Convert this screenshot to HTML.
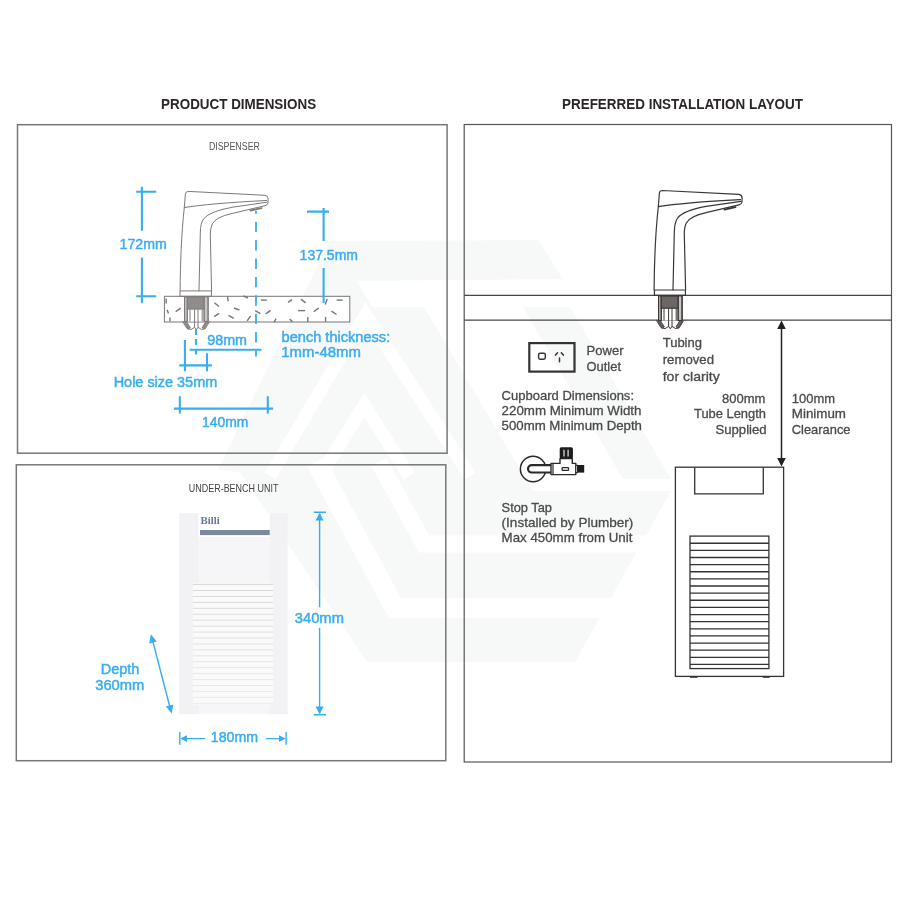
<!DOCTYPE html>
<html><head><meta charset="utf-8"><title>Product dimensions</title>
<style>
html,body{margin:0;padding:0;background:#fff;}
body{width:900px;height:900px;overflow:hidden;font-family:"Liberation Sans",sans-serif;}
svg{display:block;filter:blur(0.35px);}
</style></head>
<body>
<svg width="900" height="900" viewBox="0 0 900 900">
<rect width="900" height="900" fill="#fff"/>
<g fill="#f7f8f8">
<polygon points="329.8,241 538.3,240 563,279 357,281 372,307 424,307 533,491 671,491 575,662 367,662 240,472 218,470 227,451"/>
<polygon points="523,307 570,307 671,479 623,479"/>
</g>
<g fill="none" stroke="#fff" stroke-linejoin="miter" stroke-miterlimit="10">
<polyline points="270,476 365.7,314.3 470,476" stroke-width="13"/>
<polyline points="320,476 364.4,405 409,476" stroke-width="13"/>
<polyline points="379,462 424,544 680,544" stroke-width="17"/>
<polyline points="316,462 395,608 660,608" stroke-width="20"/>
</g>
<g fill="none" stroke="#777" stroke-width="1.5">
<rect x="17.5" y="124.7" width="429.6" height="328.5"/>
<rect x="16.3" y="464.8" width="429.5" height="295.9"/>
</g>
<rect x="464.2" y="124.5" width="427.3" height="637.5" fill="none" stroke="#555" stroke-width="1.2"/>
<text x="161.1" y="109.4" font-family="Liberation Sans, sans-serif" font-size="14.5" font-weight="bold" fill="#2b2626" text-anchor="start" textLength="155" lengthAdjust="spacingAndGlyphs">PRODUCT DIMENSIONS</text>
<text x="562" y="109.4" font-family="Liberation Sans, sans-serif" font-size="14.5" font-weight="bold" fill="#2b2626" text-anchor="start" textLength="241" lengthAdjust="spacingAndGlyphs">PREFERRED INSTALLATION LAYOUT</text>
<text x="208.9" y="149.9" font-family="Liberation Sans, sans-serif" font-size="10.3" font-weight="normal" fill="#555" text-anchor="start" textLength="51" lengthAdjust="spacingAndGlyphs">DISPENSER</text>
<text x="188.8" y="492" font-family="Liberation Sans, sans-serif" font-size="10.3" font-weight="normal" fill="#444" text-anchor="start" textLength="89.6" lengthAdjust="spacingAndGlyphs">UNDER-BENCH UNIT</text>
<defs>
<g id="faucet" fill="none" stroke-linecap="round" stroke-linejoin="round">
 <path d="M654.1 290 C654.3 262 655.5 232 658.3 206.7 L659.4 193 Q659.8 190.6 662.2 190.5 L738.9 194.4 Q742 194.8 742.1 198 L742 202 Q741.6 204.2 739 204.8 L706 212.6 Q690 216 686.3 223 Q684.3 227 684.3 234 L685.6 290"/>
 <path d="M658.3 206.7 Q683 202.5 740.5 199.6"/>
 <path d="M741 201.3 L706 206.4 Q684 210.5 678 217.5 Q674.4 222 674.3 232 L673 290"/>
 <path d="M724.5 209.6 L735.5 207.2" stroke-width="1.8"/>
 <path d="M654.4 290 H685.4 V295.4 H654.4 Z"/>
</g></defs>
<rect x="164.4" y="296.3" width="185.4" height="25.7" fill="#fff" stroke="#777" stroke-width="1"/>
<g stroke="#777" stroke-width="1.4" stroke-linecap="butt">
<line x1="166.2" y1="298.5" x2="166.2" y2="303.5"/>
<line x1="167.1" y1="309.8" x2="168.5" y2="313.6"/>
<line x1="175.7" y1="311.6" x2="180.7" y2="308.2"/>
<line x1="170.0" y1="317.4" x2="170.0" y2="321.4"/>
<line x1="214.4" y1="302.7" x2="219.0" y2="306.5"/>
<line x1="227.4" y1="296.3" x2="228.2" y2="301.3"/>
<line x1="233.9" y1="308.0" x2="239.5" y2="310.0"/>
<line x1="243.3" y1="295.8" x2="247.9" y2="298.0"/>
<line x1="214.2" y1="316.7" x2="219.2" y2="313.3"/>
<line x1="228.5" y1="315.3" x2="233.7" y2="318.3"/>
<line x1="247.2" y1="320.8" x2="250.6" y2="315.8"/>
<line x1="255.2" y1="310.6" x2="260.4" y2="313.6"/>
<line x1="260.8" y1="300.1" x2="266.8" y2="300.1"/>
<line x1="265.7" y1="313.8" x2="270.7" y2="310.4"/>
<line x1="274.1" y1="322.1" x2="276.1" y2="318.7"/>
<line x1="288.0" y1="302.4" x2="292.0" y2="299.6"/>
<line x1="289.6" y1="319.1" x2="292.6" y2="321.7"/>
<line x1="301.0" y1="299.1" x2="305.6" y2="302.9"/>
<line x1="298.1" y1="310.6" x2="305.1" y2="310.6"/>
<line x1="313.7" y1="311.6" x2="318.7" y2="308.2"/>
<line x1="307.8" y1="316.9" x2="307.8" y2="321.9"/>
<line x1="325.2" y1="304.5" x2="327.2" y2="298.9"/>
<line x1="325.6" y1="316.9" x2="325.6" y2="321.9"/>
<line x1="336.6" y1="300.1" x2="342.6" y2="300.1"/>
<line x1="331.5" y1="311.1" x2="336.5" y2="314.5"/>
</g>
<defs>
<g id="thread">
 <rect x="658.3" y="295.9" width="23.9" height="24.6" fill="#fff" stroke="none"/>
 <rect x="658.6" y="295.9" width="2.6" height="24.6" fill="#c9c6c6"/>
 <rect x="678.2" y="295.9" width="3.8" height="24.6" fill="#c9c6c6"/>
 <rect x="661.2" y="296" width="16.8" height="12.2" fill="currentColor"/>
 <g stroke-width="1" fill="none">
  <path d="M658.5 296 V320.5 M682.2 296 V320.5"/>
  <path d="M661.4 308 V320.5 M664 308.5 V320.5 M668.6 308.5 V326.5 M672 308.5 V326.5 M676.2 308.5 V320.5 M678 308 V320.5"/>
  <path d="M656.5 320.5 L661 327.6 L665 328.6 L668.6 326.4 L670.3 328.8 L672 326.4 L675.6 328.6 L679.4 327.6 L683.6 320.5"/>
  <path d="M657.6 320.6 L660.4 320.6 L664.4 326.8 L662 328.4 Z M682.6 320.6 L679.8 320.6 L676 326.8 L678.2 328.4 Z" fill="currentColor" stroke-width="0.8"/>
 </g>
</g></defs>
<g transform="translate(-474,0.9)" stroke="#7d7979" stroke-width="1" color="#908c8c"><use href="#thread"/><use href="#faucet"/></g>
<g stroke="#38adf0" stroke-width="2.1" fill="none">
<path d="M141.9 186.7 V230.8 M141.9 257.5 V303.3 M136.2 191.8 H156.2 M136.2 296.3 H156.2"/>
<path d="M323.6 208 V241 M323.6 268 V303 M307 211.6 H329"/>
<path d="M256 210.7 V356.5" stroke-dasharray="10.4 8" stroke-dashoffset="7.4" stroke-width="1.8"/>
<path d="M196 329 V354.5" stroke-dasharray="6 4"/>
<path d="M189.7 349.7 H261.5"/>
<path d="M184.9 340 V371.3 M207 353.3 V371.3 M179.2 365.4 H211.9"/>
<path d="M173.9 408.6 H273.1 M179.8 396.2 V413.5 M267.8 396.2 V413.5"/>
</g>
<text x="119.6" y="248.8" font-family="Liberation Sans, sans-serif" font-size="15.5" font-weight="normal" fill="#38adf0" text-anchor="start" textLength="47.2" lengthAdjust="spacingAndGlyphs" stroke="#38adf0" stroke-width="0.5">172mm</text>
<text x="299.6" y="259.6" font-family="Liberation Sans, sans-serif" font-size="15.5" font-weight="normal" fill="#38adf0" text-anchor="start" textLength="58.4" lengthAdjust="spacingAndGlyphs" stroke="#38adf0" stroke-width="0.5">137.5mm</text>
<text x="281.6" y="342.4" font-family="Liberation Sans, sans-serif" font-size="15.5" font-weight="normal" fill="#38adf0" text-anchor="start" textLength="108.6" lengthAdjust="spacingAndGlyphs" stroke="#38adf0" stroke-width="0.5">bench thickness:</text>
<text x="281.3" y="357.3" font-family="Liberation Sans, sans-serif" font-size="15.5" font-weight="normal" fill="#38adf0" text-anchor="start" textLength="79.5" lengthAdjust="spacingAndGlyphs" stroke="#38adf0" stroke-width="0.5">1mm-48mm</text>
<text x="207.2" y="345.3" font-family="Liberation Sans, sans-serif" font-size="15.5" font-weight="normal" fill="#38adf0" text-anchor="start" textLength="39.9" lengthAdjust="spacingAndGlyphs" stroke="#38adf0" stroke-width="0.5">98mm</text>
<text x="113.7" y="386.7" font-family="Liberation Sans, sans-serif" font-size="15.5" font-weight="normal" fill="#38adf0" text-anchor="start" textLength="103.5" lengthAdjust="spacingAndGlyphs" stroke="#38adf0" stroke-width="0.5">Hole size 35mm</text>
<text x="202" y="427.2" font-family="Liberation Sans, sans-serif" font-size="15.5" font-weight="normal" fill="#38adf0" text-anchor="start" textLength="46.4" lengthAdjust="spacingAndGlyphs" stroke="#38adf0" stroke-width="0.5">140mm</text>
<rect x="179.3" y="513.3" width="108.2" height="200.9" fill="#f6f6f8"/>
<rect x="179.3" y="513.3" width="18.9" height="200.9" fill="#f2f2f4"/>
<rect x="269.7" y="513.3" width="17.8" height="200.9" fill="#f2f2f4"/>
<rect x="198.2" y="513.3" width="71.5" height="23.5" fill="#fff"/>
<rect x="200" y="530" width="69.7" height="5.1" fill="#7c87a0"/>
<text x="200.6" y="523.8" font-family="Liberation Serif, sans-serif" font-size="10.5" font-weight="bold" fill="#66779a" text-anchor="start" textLength="19.3" lengthAdjust="spacingAndGlyphs">Billi</text>
<rect x="192.8" y="583.5" width="80.3" height="121" fill="#fafafb"/>
<g stroke-width="1">
<line x1="192.8" x2="273.1" y1="584.60" y2="584.60" stroke="#d8d8d8"/>
<line x1="192.8" x2="273.1" y1="590.53" y2="590.53" stroke="#d9d9d9"/>
<line x1="192.8" x2="273.1" y1="596.47" y2="596.47" stroke="#dadada"/>
<line x1="192.8" x2="273.1" y1="602.40" y2="602.40" stroke="#dbdbdb"/>
<line x1="192.8" x2="273.1" y1="608.34" y2="608.34" stroke="#dcdcdc"/>
<line x1="192.8" x2="273.1" y1="614.27" y2="614.27" stroke="#dddddd"/>
<line x1="192.8" x2="273.1" y1="620.21" y2="620.21" stroke="#dedede"/>
<line x1="192.8" x2="273.1" y1="626.14" y2="626.14" stroke="#dfdfdf"/>
<line x1="192.8" x2="273.1" y1="632.08" y2="632.08" stroke="#e0e0e0"/>
<line x1="192.8" x2="273.1" y1="638.01" y2="638.01" stroke="#e1e1e1"/>
<line x1="192.8" x2="273.1" y1="643.95" y2="643.95" stroke="#e2e2e2"/>
<line x1="192.8" x2="273.1" y1="649.88" y2="649.88" stroke="#e3e3e3"/>
<line x1="192.8" x2="273.1" y1="655.82" y2="655.82" stroke="#e4e4e4"/>
<line x1="192.8" x2="273.1" y1="661.75" y2="661.75" stroke="#e5e5e5"/>
<line x1="192.8" x2="273.1" y1="667.69" y2="667.69" stroke="#e6e6e6"/>
<line x1="192.8" x2="273.1" y1="673.62" y2="673.62" stroke="#e7e7e7"/>
<line x1="192.8" x2="273.1" y1="679.56" y2="679.56" stroke="#e8e8e8"/>
<line x1="192.8" x2="273.1" y1="685.50" y2="685.50" stroke="#e9e9e9"/>
<line x1="192.8" x2="273.1" y1="691.43" y2="691.43" stroke="#eaeaea"/>
<line x1="192.8" x2="273.1" y1="697.37" y2="697.37" stroke="#ebebeb"/>
<line x1="192.8" x2="273.1" y1="703.30" y2="703.30" stroke="#ececec"/>
</g>
<g stroke="#38adf0" stroke-width="1.4" fill="none">
<path d="M319.6 514 V607.3 M319.6 627.8 V713 M313.7 512.3 H326 M313.7 714.7 H326"/>
<path d="M152.5 640 L170 707.5"/>
<path d="M179.8 732 V744.7 M286.1 732 V744.7 M182 738.6 H205.2 M265.8 738.6 H284"/>
</g>
<g fill="#38adf0">
<path d="M319.6 512.8 L323.6 520.5 H315.6 Z M319.6 714.2 L323.6 706.5 H315.6 Z"/>
<path d="M150.9 634.2 L156.7 641.4 L149.2 643.4 Z M171.7 713.6 L165.9 706.4 L173.4 704.4 Z"/>
<path d="M180.3 738.6 L187 735.2 V742 Z M285.6 738.6 L279 735.2 V742 Z"/>
</g>
<text x="294.8" y="623.2" font-family="Liberation Sans, sans-serif" font-size="15.5" font-weight="normal" fill="#38adf0" text-anchor="start" textLength="49.1" lengthAdjust="spacingAndGlyphs" stroke="#38adf0" stroke-width="0.5">340mm</text>
<text x="100.8" y="674.3" font-family="Liberation Sans, sans-serif" font-size="15.5" font-weight="normal" fill="#38adf0" text-anchor="start" textLength="38.6" lengthAdjust="spacingAndGlyphs" stroke="#38adf0" stroke-width="0.5">Depth</text>
<text x="95.2" y="690.2" font-family="Liberation Sans, sans-serif" font-size="15.5" font-weight="normal" fill="#38adf0" text-anchor="start" textLength="49.1" lengthAdjust="spacingAndGlyphs" stroke="#38adf0" stroke-width="0.5">360mm</text>
<text x="210.8" y="741.8" font-family="Liberation Sans, sans-serif" font-size="15.5" font-weight="normal" fill="#38adf0" text-anchor="start" textLength="47.2" lengthAdjust="spacingAndGlyphs" stroke="#38adf0" stroke-width="0.5">180mm</text>
<g stroke="#4a4646" stroke-width="1.2" fill="none">
<path d="M464.2 295.4 H891.5 M464.2 320.2 H891.5"/>
</g>
<g stroke="#3a3636" stroke-width="1.2" color="#6e6565"><use href="#thread"/><use href="#faucet"/></g>
<rect x="529.3" y="343.1" width="45.2" height="28.5" fill="none" stroke="#333" stroke-width="2.2"/>
<rect x="538.6" y="353.2" width="6.7" height="6" rx="1.4" fill="none" stroke="#333" stroke-width="1.4"/>
<path d="M555.5 355.1 L557.6 352.7 M561.3 352.7 L563.4 355.1 M559.5 358 V361.7" stroke="#333" stroke-width="1.5" stroke-linecap="round" fill="none"/>
<text x="586.6" y="355" font-family="Liberation Sans, sans-serif" font-size="13" font-weight="normal" fill="#4a4a4a" text-anchor="start" textLength="37" lengthAdjust="spacingAndGlyphs" stroke="#4a4a4a" stroke-width="0.3">Power</text>
<text x="586.6" y="370.6" font-family="Liberation Sans, sans-serif" font-size="13" font-weight="normal" fill="#4a4a4a" text-anchor="start" textLength="34.4" lengthAdjust="spacingAndGlyphs" stroke="#4a4a4a" stroke-width="0.3">Outlet</text>
<text x="501.6" y="399.6" font-family="Liberation Sans, sans-serif" font-size="13" font-weight="normal" fill="#4a4a4a" text-anchor="start" textLength="132.4" lengthAdjust="spacingAndGlyphs" stroke="#4a4a4a" stroke-width="0.3">Cupboard Dimensions:</text>
<text x="501.6" y="415" font-family="Liberation Sans, sans-serif" font-size="13" font-weight="normal" fill="#4a4a4a" text-anchor="start" textLength="139.8" lengthAdjust="spacingAndGlyphs" stroke="#4a4a4a" stroke-width="0.3">220mm Minimum Width</text>
<text x="501.6" y="430.4" font-family="Liberation Sans, sans-serif" font-size="13" font-weight="normal" fill="#4a4a4a" text-anchor="start" textLength="140.4" lengthAdjust="spacingAndGlyphs" stroke="#4a4a4a" stroke-width="0.3">500mm Minimum Depth</text>
<text x="501.6" y="511.6" font-family="Liberation Sans, sans-serif" font-size="13" font-weight="normal" fill="#4a4a4a" text-anchor="start" textLength="50.4" lengthAdjust="spacingAndGlyphs" stroke="#4a4a4a" stroke-width="0.3">Stop Tap</text>
<text x="501.6" y="527.2" font-family="Liberation Sans, sans-serif" font-size="13" font-weight="normal" fill="#4a4a4a" text-anchor="start" textLength="131.8" lengthAdjust="spacingAndGlyphs" stroke="#4a4a4a" stroke-width="0.3">(Installed by Plumber)</text>
<text x="501.6" y="542.4" font-family="Liberation Sans, sans-serif" font-size="13" font-weight="normal" fill="#4a4a4a" text-anchor="start" textLength="130.8" lengthAdjust="spacingAndGlyphs" stroke="#4a4a4a" stroke-width="0.3">Max 450mm from Unit</text>
<text x="662.7" y="347.2" font-family="Liberation Sans, sans-serif" font-size="13" font-weight="normal" fill="#4a4a4a" text-anchor="start" textLength="39.3" lengthAdjust="spacingAndGlyphs" stroke="#4a4a4a" stroke-width="0.3">Tubing</text>
<text x="662.7" y="364.3" font-family="Liberation Sans, sans-serif" font-size="13" font-weight="normal" fill="#4a4a4a" text-anchor="start" textLength="51.3" lengthAdjust="spacingAndGlyphs" stroke="#4a4a4a" stroke-width="0.3">removed</text>
<text x="662.7" y="380.9" font-family="Liberation Sans, sans-serif" font-size="13" font-weight="normal" fill="#4a4a4a" text-anchor="start" textLength="57" lengthAdjust="spacingAndGlyphs" stroke="#4a4a4a" stroke-width="0.3">for clarity</text>
<text x="722" y="402.9" font-family="Liberation Sans, sans-serif" font-size="13" font-weight="normal" fill="#4a4a4a" text-anchor="start" textLength="43.4" lengthAdjust="spacingAndGlyphs" stroke="#4a4a4a" stroke-width="0.3">800mm</text>
<text x="694" y="418.3" font-family="Liberation Sans, sans-serif" font-size="13" font-weight="normal" fill="#4a4a4a" text-anchor="start" textLength="72" lengthAdjust="spacingAndGlyphs" stroke="#4a4a4a" stroke-width="0.3">Tube Length</text>
<text x="715.5" y="433.5" font-family="Liberation Sans, sans-serif" font-size="13" font-weight="normal" fill="#4a4a4a" text-anchor="start" textLength="51.1" lengthAdjust="spacingAndGlyphs" stroke="#4a4a4a" stroke-width="0.3">Supplied</text>
<text x="791.8" y="402.9" font-family="Liberation Sans, sans-serif" font-size="13" font-weight="normal" fill="#4a4a4a" text-anchor="start" textLength="43.2" lengthAdjust="spacingAndGlyphs" stroke="#4a4a4a" stroke-width="0.3">100mm</text>
<text x="791.8" y="418.3" font-family="Liberation Sans, sans-serif" font-size="13" font-weight="normal" fill="#4a4a4a" text-anchor="start" textLength="54.2" lengthAdjust="spacingAndGlyphs" stroke="#4a4a4a" stroke-width="0.3">Minimum</text>
<text x="791.8" y="433.5" font-family="Liberation Sans, sans-serif" font-size="13" font-weight="normal" fill="#4a4a4a" text-anchor="start" textLength="58.7" lengthAdjust="spacingAndGlyphs" stroke="#4a4a4a" stroke-width="0.3">Clearance</text>
<path d="M781.5 326 V461" stroke="#222" stroke-width="1.5" fill="none"/>
<path d="M781.5 320.6 L785.8 329 H777.2 Z M781.5 466.6 L785.8 458 H777.2 Z" fill="#222"/>
<g stroke="#2a2a2a" fill="none">
<circle cx="533.1" cy="469" r="12.7" stroke-width="1.5" fill="#fff"/>
<path d="M551 465.1 H531.7 A3.7 3.7 0 0 0 531.7 472.5 H551" stroke-width="2.2" fill="#fff"/>
<path d="M551 463.4 H560 V458.5 H572.3 V463.4 H575.8 V474.6 H551 Z" stroke-width="1.4" fill="#fff" stroke-linejoin="round"/>
<path d="M553 463.4 V474.6" stroke-width="1.2"/>
<rect x="562.1" y="467.7" width="6.4" height="2.7" rx="0.6" stroke-width="1.3"/>
<rect x="575.8" y="465.3" width="1.6" height="7.4" stroke-width="1" fill="#fff"/>
</g>
<rect x="559.7" y="447.2" width="13.2" height="11.2" rx="1.5" fill="#1c1c1c"/>
<path d="M564 449.8 V456.4 M568.1 449.8 V456.4" stroke="#d8d8d8" stroke-width="1.3"/>
<rect x="577.3" y="465" width="6.9" height="7.6" fill="#1c1c1c"/>
<g stroke="#333" stroke-width="1.3" fill="none">
<rect x="675.4" y="467.2" width="108.2" height="209.2" fill="#fff"/>
<path d="M694.7 467.2 V493.9 H763.3 V467.2"/>
<rect x="690" y="536.1" width="78.9" height="132.5"/>
<path d="M690 543.23 H768.9 M690 550.36 H768.9 M690 557.49 H768.9 M690 564.62 H768.9 M690 571.75 H768.9 M690 578.88 H768.9 M690 586.01 H768.9 M690 593.14 H768.9 M690 600.27 H768.9 M690 607.40 H768.9 M690 614.53 H768.9 M690 621.66 H768.9 M690 628.79 H768.9 M690 635.92 H768.9 M690 643.05 H768.9 M690 650.18 H768.9 M690 657.31 H768.9 M690 664.44 H768.9 "/>
<path d="M690 677.3 H697.5 M762.8 677.3 H769.7" stroke-width="1"/>
</g>
</svg>
</body></html>
